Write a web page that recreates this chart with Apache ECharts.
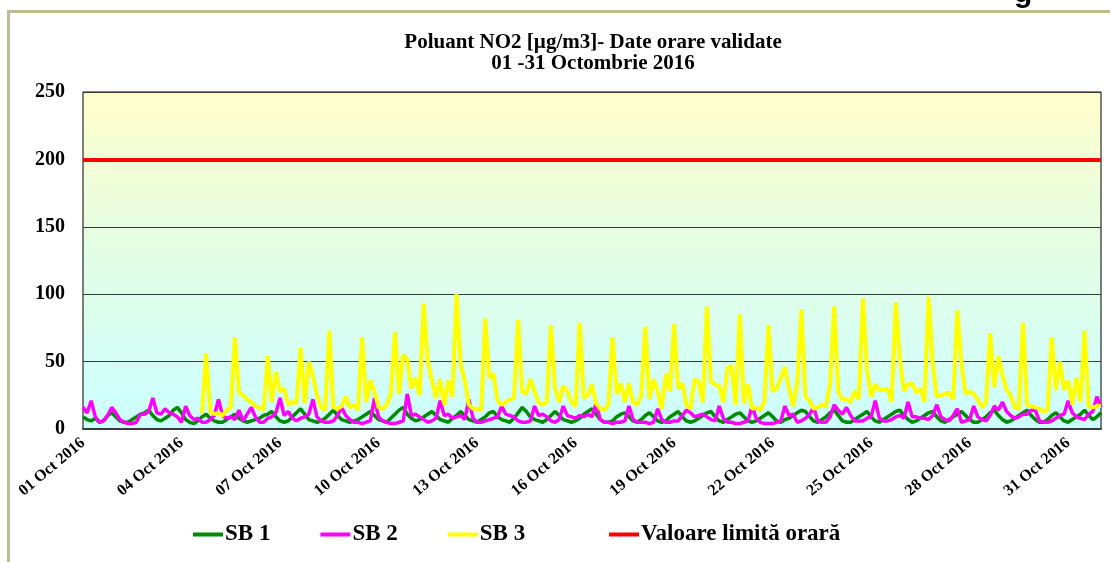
<!DOCTYPE html>
<html>
<head>
<meta charset="utf-8">
<script src="https://cdn.jsdelivr.net/npm/echarts@6/dist/echarts.min.js"></script>
<style>
  html, body { margin: 0; padding: 0; background: #fff; }
  #nox { width: 1110px; height: 562px; }
</style>
</head>
<body>
<div id="nox"></div>
<script>
// date orare, citite din grafic la pas de 3 ore (01 Oct 00:00 ... 01 Nov 00:00)
const tickLabels = ['01 Oct 2016', '04 Oct 2016', '07 Oct 2016', '10 Oct 2016', '13 Oct 2016', '16 Oct 2016',
  '19 Oct 2016', '22 Oct 2016', '25 Oct 2016', '28 Oct 2016', '31 Oct 2016']
const seriesNames = ['SB 1', 'SB 2', 'SB 3', 'Valoare limită orară']
const LIMIT = 200

const sb1 = [
  9, 7, 6, 8, 5, 6, 10, 12, 9, 6, 5, 5, 7, 9, 11, 12,
  14, 10, 7, 6, 8, 10, 14, 16, 12, 7, 5, 4, 6, 9, 11, 8,
  6, 5, 5, 7, 9, 11, 8, 6, 5, 6, 7, 8, 10, 11, 13, 9,
  6, 5, 6, 9, 12, 15, 11, 7, 6, 5, 6, 8, 11, 14, 10, 7,
  6, 5, 6, 7, 9, 11, 13, 10, 7, 6, 5, 8, 11, 14, 16, 11,
  8, 6, 7, 9, 11, 13, 10, 7, 6, 5, 8, 10, 13, 10, 7, 6,
  5, 7, 9, 12, 13, 9, 7, 6, 5, 8, 12, 16, 13, 9, 7, 6,
  5, 7, 10, 13, 10, 7, 6, 5, 6, 8, 11, 13, 15, 11, 7, 5,
  5, 6, 9, 11, 12, 9, 6, 5, 7, 10, 12, 9, 6, 5, 6, 9,
  11, 13, 9, 6, 5, 6, 8, 10, 12, 13, 9, 6, 5, 7, 9, 11,
  12, 9, 6, 5, 6, 8, 10, 12, 9, 6, 5, 7, 8, 10, 12, 14,
  13, 9, 6, 5, 7, 9, 12, 14, 10, 6, 5, 5, 7, 9, 11, 13,
  9, 6, 5, 7, 9, 11, 13, 14, 10, 7, 5, 6, 8, 10, 12, 13,
  9, 6, 5, 7, 9, 11, 13, 10, 7, 5, 5, 7, 9, 12, 14, 10,
  7, 5, 6, 8, 10, 12, 14, 10, 7, 5, 5, 7, 10, 12, 9, 6,
  5, 7, 9, 11, 14, 10, 7, 9, 12
]

const sb2 = [
  16, 12, 21, 9, 5, 6, 10, 16, 12, 7, 5, 4, 4, 5, 11, 11,
  13, 23, 12, 11, 15, 12, 11, 9, 5, 17, 10, 7, 8, 5, 5, 7,
  10, 22, 10, 8, 9, 7, 14, 6, 11, 16, 9, 5, 5, 8, 9, 12,
  23, 10, 13, 8, 6, 8, 9, 11, 22, 9, 6, 5, 5, 6, 10, 16,
  10, 7, 5, 5, 4, 5, 6, 23, 9, 6, 5, 4, 4, 5, 6, 26,
  10, 11, 9, 7, 5, 6, 8, 21, 10, 11, 8, 9, 10, 7, 22, 8,
  5, 5, 6, 7, 8, 9, 17, 11, 10, 9, 6, 5, 5, 6, 17, 10,
  11, 9, 6, 5, 7, 17, 10, 9, 8, 10, 9, 11, 9, 19, 7, 5,
  5, 4, 5, 5, 6, 17, 7, 5, 5, 5, 4, 5, 15, 7, 5, 5,
  6, 6, 10, 14, 12, 9, 10, 11, 9, 7, 6, 17, 8, 5, 5, 4,
  4, 5, 6, 17, 8, 5, 4, 4, 4, 5, 6, 17, 10, 11, 5, 6,
  8, 11, 16, 6, 5, 5, 9, 18, 14, 11, 16, 10, 6, 6, 6, 8,
  9, 21, 8, 6, 6, 7, 9, 10, 8, 20, 9, 9, 8, 8, 7, 10,
  18, 9, 7, 6, 10, 15, 5, 6, 7, 17, 9, 7, 6, 10, 17, 14,
  20, 13, 10, 8, 9, 11, 11, 14, 14, 6, 5, 5, 6, 8, 10, 11,
  21, 12, 9, 8, 7, 11, 13, 24, 16
]

// SB 3 lipseste pana in 04 Oct
const sb3 = [
  null, null, null, null, null, null, null, null, null, null, null, null, null, null, null, null,
  null, null, null, null, null, null, null, null, null, null, null, null, null,
  12, 56, 13, 11, 12, 10, 14, 16,
  68, 27, 25, 22, 20, 17, 16, 14,
  54, 20, 42, 28, 30, 18, 20, 19,
  60, 19, 50, 40, 25, 16, 14,
  73, 16, 15, 17, 24, 16, 18, 14,
  68, 20, 36, 28, 16, 15, 18, 26,
  72, 26, 55, 52, 30, 38, 25,
  93, 50, 36, 23, 37, 18, 36, 24,
  100, 48, 36, 18, 15, 15, 14,
  82, 38, 41, 21, 18, 20, 22, 23,
  81, 28, 26, 37, 28, 20, 18, 20,
  77, 30, 20, 32, 28, 20, 17,
  79, 23, 25, 33, 19, 15, 14, 18,
  68, 26, 34, 20, 34, 20, 18, 25,
  76, 22, 37, 28, 15, 41, 28,
  78, 30, 34, 18, 15, 37, 35, 20,
  91, 35, 33, 32, 20, 45, 47, 18,
  85, 19, 33, 15, 16, 14, 20,
  77, 28, 30, 38, 46, 30, 17, 34,
  89, 24, 21, 15, 16, 18, 17, 33,
  91, 28, 22, 22, 20, 28, 22,
  97, 44, 24, 33, 29, 29, 30, 20,
  94, 52, 28, 33, 34, 27, 30, 20,
  98, 49, 24, 25, 26, 27, 22,
  88, 49, 26, 28, 26, 22, 16, 20,
  71, 31, 54, 40, 29, 25, 16, 15,
  79, 18, 17, 16, 15, 13, 14,
  68, 29, 50, 29, 36, 18, 38, 20,
  73, 17, 16, 17, 17
]

// categorii: un punct la 3 ore, eticheta la fiecare 3 zile
const categories = sb1.map((v, i) => {
  const day = Math.floor(i / 8)
  const label = day < 31 ? tickLabels[Math.floor(day / 3)] : '01 Nov 2016'
  return label + ' #' + i
})

const serif = 'Liberation Serif, Times New Roman, serif'
const legendText = { fontFamily: serif, fontWeight: 'bold', fontSize: 23, color: '#000', padding: [0, 0, 0, -3] }

const chart = echarts.init(document.getElementById('nox'))
chart.setOption({
  animation: false,
  backgroundColor: '#fff',
  title: {
    text: 'Poluant NO2 [µg/m3]- Date orare validate\n01 -31 Octombrie 2016',
    left: 588,
    top: 27,
    textAlign: 'center',
    textStyle: { fontFamily: serif, fontWeight: 'bold', fontSize: 21, lineHeight: 21, color: '#000' }
  },
  graphic: [
    { type: 'rect', shape: { x: 7, y: 10, width: 1110, height: 3 }, style: { fill: '#c2b995' }, silent: true },
    { type: 'rect', shape: { x: 7, y: 10, width: 3, height: 560 }, style: { fill: '#c2b995' }, silent: true },
    { type: 'text', style: { text: 'g', x: 1014, y: 9, font: 'bold 30px Liberation Sans', fill: '#000', textVerticalAlign: 'bottom' }, silent: true }
  ],
  legend: [{
    data: seriesNames.slice(0, 3),
    left: 188,
    top: 518,
    icon: 'rect',
    itemWidth: 30,
    itemHeight: 4,
    itemGap: 50,
    textStyle: legendText
  }, {
    data: seriesNames.slice(3),
    left: 604,
    top: 518,
    icon: 'rect',
    itemWidth: 30,
    itemHeight: 4,
    textStyle: legendText
  }],
  grid: {
    left: 83,
    right: 9,
    top: 92,
    bottom: 133,
    show: true,
    borderColor: '#000',
    borderWidth: 1,
    backgroundColor: new echarts.graphic.LinearGradient(0, 0, 0, 1, [
      { offset: 0, color: '#ffffcc' },
      { offset: 0.5, color: '#e2fde6' },
      { offset: 1, color: '#ccffff' }
    ])
  },
  xAxis: {
    type: 'category',
    data: categories,
    boundaryGap: false,
    axisTick: { show: false },
    axisLine: { lineStyle: { color: '#3a3a3a', width: 2 } },
    axisLabel: {
      interval: 23,
      rotate: 40,
      margin: 12,
      fontFamily: serif,
      fontWeight: 'bold',
      fontSize: 16,
      color: '#000',
      formatter: v => v.split(' #')[0]
    }
  },
  yAxis: {
    type: 'value',
    min: 0,
    max: 250,
    interval: 50,
    axisLine: { show: false },
    axisTick: { show: false },
    axisLabel: { margin: 18, fontFamily: serif, fontWeight: 'bold', fontSize: 20, color: '#000' },
    splitLine: { lineStyle: { color: '#3c3c3c', width: 1 } }
  },
  series: [
    { name: 'SB 1', type: 'line', data: sb1, symbol: 'none', lineStyle: { color: '#008a00', width: 3.5 }, itemStyle: { color: '#008a00' } },
    { name: 'SB 2', type: 'line', data: sb2, symbol: 'none', lineStyle: { color: '#ff00ff', width: 3.5 }, itemStyle: { color: '#ff00ff' } },
    { name: 'SB 3', type: 'line', data: sb3, symbol: 'none', connectNulls: false, lineStyle: { color: '#ffff00', width: 4 }, itemStyle: { color: '#ffff00' } },
    {
      name: 'Valoare limită orară', type: 'line', data: [], symbol: 'none',
      lineStyle: { color: '#ff0000', width: 4 }, itemStyle: { color: '#ff0000' },
      markLine: {
        silent: true,
        symbol: 'none',
        label: { show: false },
        lineStyle: { color: '#ff0000', width: 4, type: 'solid' },
        data: [{ yAxis: LIMIT }]
      }
    }
  ]
})
</script>
</body>
</html>
